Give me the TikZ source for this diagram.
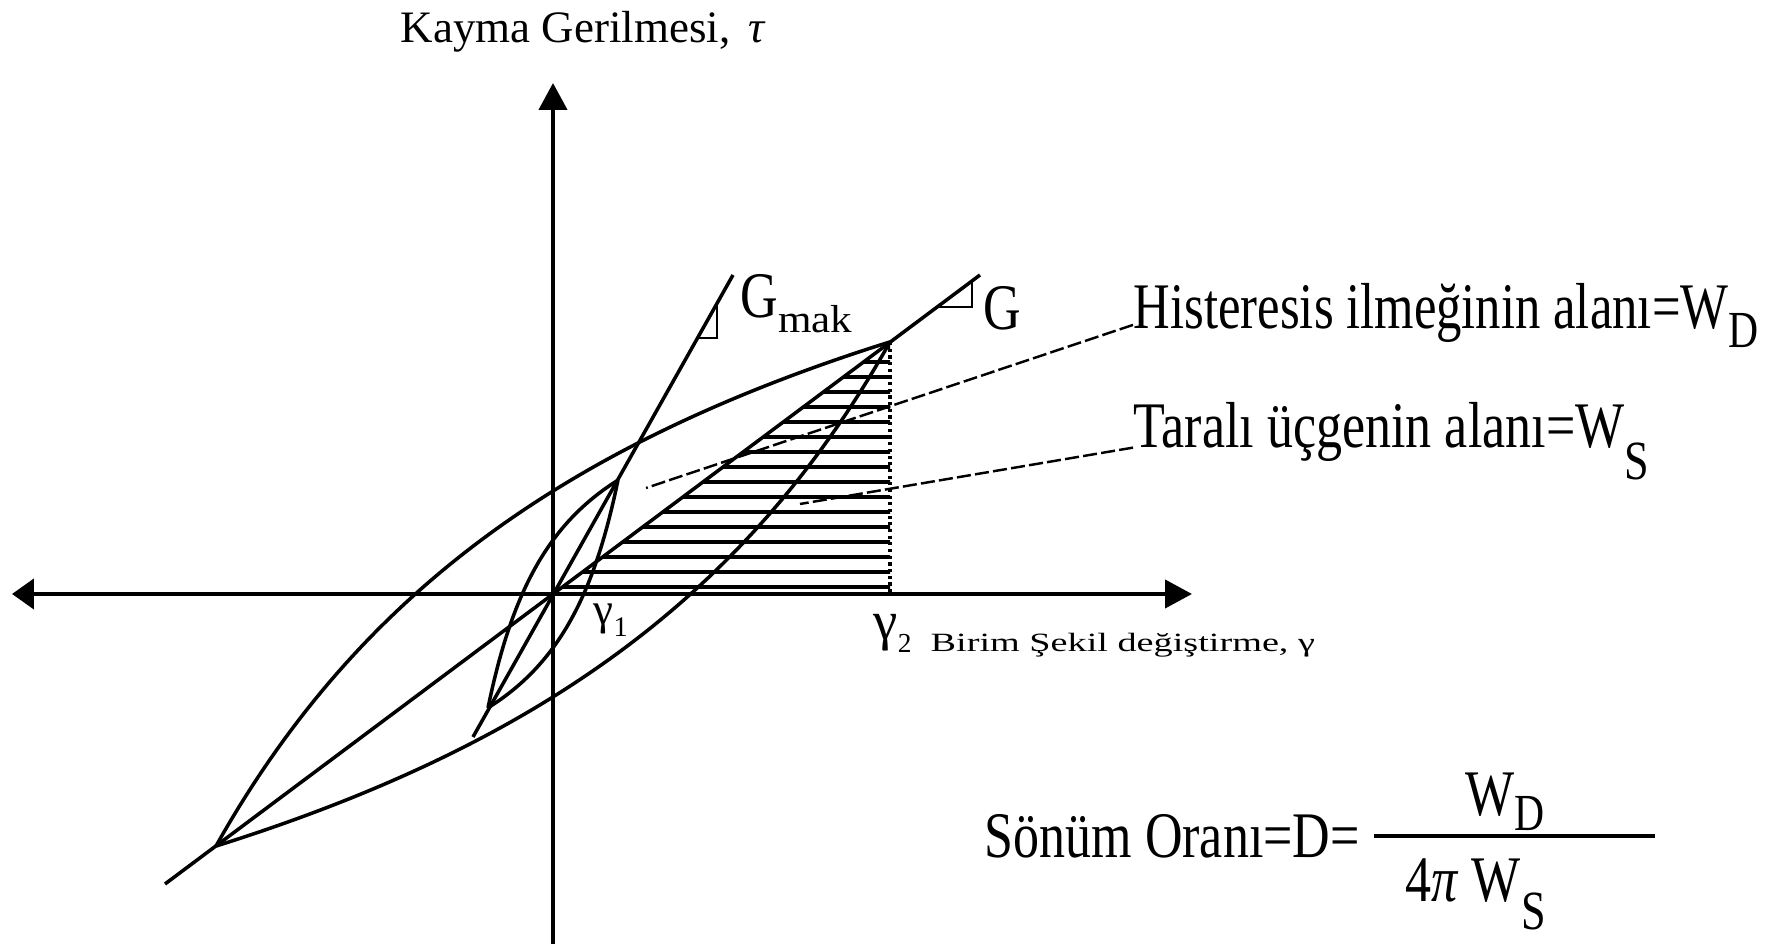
\documentclass[tikz,border=0pt]{standalone}
\usepackage{fontspec}
\setmainfont{Liberation Serif}
\newfontfamily\narrowserif[FakeStretch=0.8]{Liberation Serif}
\newfontfamily\wideserif[FakeStretch=1.45]{Liberation Serif}
\usetikzlibrary{arrows.meta}
\newcommand{\lowsub}[3]{\raisebox{-#1}{\scalebox{#2}{#3}}}

\begin{document}
\begin{tikzpicture}[
  tip/.style={-{Triangle[length=2.7mm,width=2.8mm]}},
  axisline/.style={line width=1.2pt},
  loopline/.style={line width=1pt},
  hatchline/.style={line width=0.9pt},
  leader/.style={line width=0.7pt, dash pattern=on 4pt off 1.2pt},
  biglbl/.style={inner sep=0pt, anchor=base west, font=\narrowserif\fontsize{18.5}{20}\selectfont},
  smalllbl/.style={inner sep=0pt, anchor=base west, font=\fontsize{12.8}{14}\selectfont},
]
 \useasboundingbox (0,0) rectangle (17.77,9.44);
 \coordinate (O) at (5.53,3.50);
 \coordinate (B) at (8.90,6.02);
 \coordinate (g2) at (8.90,3.50);
 % axes
 \draw[axisline, tip] (5.53,0) -- (5.53,8.61);
 \draw[axisline, {Triangle[length=2.2mm,width=3mm]}-{Triangle[length=2.7mm,width=2.8mm]}] (0.12,3.50) -- (11.92,3.50);
 \node[smalllbl] (stress) at (4.00,9.01) {Kayma Gerilmesi,\hspace{0.4em}\textit{τ}};
 % hatched triangle
 \begin{scope}
  \clip (O) -- (B) -- (g2) -- cycle;
  \foreach \y in {3.57,3.72,...,6.02} \draw[hatchline] (5.4,\y) -- (9.0,\y);
 \end{scope}
 \draw[densely dotted, line width=0.9pt] (B) -- (g2);
 % hysteresis loops (Masing)
 \begin{scope}[shift={(O)}]
  \draw[loopline] plot[domain=-3.37:3.37, samples=90] (\x, {-2.52+1.78*(\x+3.37)/(1+(\x+3.37)/4.884)});
  \draw[loopline] plot[domain=-3.37:3.37, samples=90] (\x, {2.52-1.78*(3.37-\x)/(1+(3.37-\x)/4.884)});
  \draw[loopline] plot[domain=-0.65:0.65, samples=60] (\x, {-1.14+4.9*(\x+0.65)/(1+(\x+0.65)/0.724)});
  \draw[loopline] plot[domain=-0.65:0.65, samples=60] (\x, {1.14-4.9*(0.65-\x)/(1+(0.65-\x)/0.724)});
 \end{scope}
 % secant moduli
 \draw[loopline] (1.65,0.60) -- (9.80,6.69);
 \draw[loopline] (4.73,2.07) -- (7.33,6.69);
 \draw[line width=0.8pt] (6.975,6.06) -- (7.17,6.06) -- (7.17,6.41);
 \draw[line width=0.8pt] (9.374,6.37) -- (9.72,6.37) -- (9.72,6.628);
 \node[biglbl] (gmak) at (7.40,6.26) {G\lowsub{0.23em}{0.6}{\scalebox{1.38}[1]{mak}}};
 \node[biglbl] (gsec) at (9.83,6.14) {G};
 % labels on the strain axis
 \node[smalllbl] (g1) at (5.93,3.19) {γ\lowsub{0.25em}{0.63}{1}};
 \node[smalllbl, font=\fontsize{15.6}{17}\selectfont] (g2lbl) at (8.73,3.04) {γ\lowsub{0.22em}{0.5}{2}};
 \node[inner sep=0pt, anchor=base west, font=\wideserif\fontsize{7.5}{8}\selectfont] (strain) at (9.30,2.92) {Birim Şekil değiştirme, γ};
 % area labels
 \node[biglbl] (hist) at (11.33,6.15) {\scalebox{0.975}[1]{Histeresis ilmeğinin alanı=W}\lowsub{0.29em}{0.8}{D}};
 \node[biglbl] (tarali) at (11.33,4.96) {Taralı üçgenin alanı=W\lowsub{0.49em}{0.85}{S}};
 \coordinate (wd) at (6.46,4.56);
 \coordinate (ws) at (8.00,4.40);
 \draw[leader] ([yshift=-0.9mm]hist.west) -- (wd);
 \draw[leader] ([yshift=-0.6mm]tarali.west) -- (ws);
 % damping ratio
 \node[biglbl] (damp) at (9.84,0.86) {Sönüm Oranı=D=};
 \coordinate (fl) at (13.74,1.08);
 \coordinate (fr) at (16.55,1.08);
 \draw[line width=1pt] (fl) -- (fr);
 \node[biglbl] (num) at (14.65,1.28) {W\lowsub{0.22em}{0.8}{D}};
 \node[biglbl] (den) at (14.05,0.42) {4\textit{π} W\lowsub{0.42em}{0.85}{S}};
\end{tikzpicture}
\end{document}
